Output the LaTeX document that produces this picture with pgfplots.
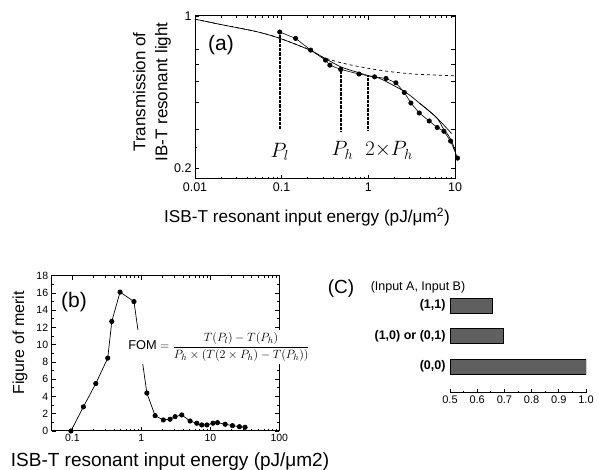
\documentclass[border=0pt]{standalone}
\usepackage{pgfplots}
\pgfplotsset{compat=1.18}
\usepackage{amsmath}
\usepackage{fontspec}
\setmainfont{Liberation Sans}
\definecolor{bargray}{RGB}{95,95,95}
\begin{document}
\begin{tikzpicture}[x=1pt,y=1pt]
\path[use as bounding box] (0,0) rectangle (599,470);
% ---------------- panel (a)
\begin{axis}[
  at={(195pt,291pt)}, anchor=south west,
  width=260pt, height=163pt, scale only axis,
  xmode=log, ymode=log,
  xmin=0.01, xmax=10, ymin=0.178, ymax=1,
  xtick={0.01,0.1,1,10}, xticklabels={0.01,0.1,1,10},
  ytick={0.2,0.3,0.4,0.5,0.6,0.7,1}, yticklabels={0.2,,,,,,1},
  minor ytick={0.25},
  tick align=inside, major tick length=4pt, minor tick length=2.2pt,
  axis line style={line width=1pt}, tick style={line width=0.8pt, black},
  ticklabel style={font=\fontsize{12.5}{12.5}\selectfont},
  /pgf/number format/assume math mode=true,
  clip=false,
]
% dashed model curve
\addplot[black, line width=0.7pt, dashed, smooth] coordinates {
(0.01,0.967) (0.0212,0.909) (0.0515,0.847) (0.0956,0.789) (0.212,0.697) (0.302,0.645)
(0.562,0.601) (1.36,0.563) (3.3,0.541) (10,0.531)};
% solid model curve 1
\addplot[black, line width=0.7pt, smooth] coordinates {
(0.01,0.967) (0.0212,0.909) (0.0515,0.847) (0.0956,0.789) (0.212,0.697) (0.302,0.645)
(0.48,0.584) (0.78,0.548) (1.04,0.529) (1.36,0.516) (2.64,0.448) (3.94,0.396) (6.13,0.341) (9.14,0.288)};
% solid model curve 2
\addplot[black, line width=0.7pt, smooth] coordinates {
(3.94,0.396) (6.13,0.341) (7.3,0.304) (8.36,0.283) (9.38,0.259) (9.97,0.241)};
% measured data
\addplot[black, line width=0.6pt, mark=*, mark size=2.2pt] coordinates {
(0.095,0.844) (0.145,0.789) (0.216,0.697) (0.32,0.627) (0.36,0.594) (0.48,0.568)
(0.78,0.541) (1.18,0.525) (1.6,0.516) (2.08,0.493) (2.6,0.445) (3.1,0.398)
(3.87,0.358) (5.04,0.329) (6.23,0.307) (7.45,0.295) (8.9,0.266) (10.7,0.222)};
% vertical dotted markers
\addplot[black, line width=2.2pt, dash pattern=on 0.7pt off 0.6pt] coordinates {(0.095,0.844) (0.095,0.303)};
\addplot[black, line width=2.2pt, dash pattern=on 0.7pt off 0.6pt] coordinates {(0.48,0.568) (0.48,0.297)};
\addplot[black, line width=2.2pt, dash pattern=on 0.7pt off 0.6pt] coordinates {(0.99,0.535) (0.99,0.297)};
\node[font=\fontsize{21}{21}\selectfont] at (axis cs:0.095,0.236) {$P_l$};
\node[font=\fontsize{21}{21}\selectfont] at (axis cs:0.502,0.241) {$P_h$};
\node[font=\fontsize{21}{21}\selectfont] at (axis cs:1.73,0.241) {$2{\times}P_h$};
\end{axis}
\node[font=\fontsize{21}{21}\selectfont] at (221,425) {(a)};
\node[font=\fontsize{17.2}{17.2}\selectfont] at (307,253) {ISB-T resonant input energy (pJ/μm\textsuperscript{2})};
\node[rotate=90, align=center, font=\fontsize{17}{22}\selectfont] at (152,378) {Transmission of\\IB-T resonant light};
% ---------------- panel (b)
\begin{axis}[
  at={(51.7pt,39pt)}, anchor=south west,
  width=227.6pt, height=155.3pt, scale only axis,
  xmode=log,
  xmin=0.05, xmax=100, ymin=0, ymax=18,
  xtick={0.1,1,10,100}, xticklabels={0.1,1,10,100},
  ytick={0,2,...,18}, minor y tick num=1,
  tick align=inside, major tick length=4pt, minor tick length=2.2pt,
  axis line style={line width=1pt}, tick style={line width=0.8pt, black},
  ticklabel style={font=\fontsize{10.5}{10.5}\selectfont},
  /pgf/number format/assume math mode=true,
  clip=false,
]
\addplot[black, line width=0.7pt, mark=*, mark size=2.2pt] coordinates {
(0.095,0) (0.144,2.8) (0.218,5.5) (0.325,8.45) (0.372,12.7) (0.49,16.1) (0.78,15.0)
(1.2,4.4) (1.58,1.78) (2.08,1.28) (2.6,1.36) (3.08,1.66) (3.85,1.86) (5.08,1.16)
(6.36,0.9) (7.5,0.7) (8.9,0.7) (10.9,0.9) (12.7,0.97) (16.4,0.78) (20.9,0.62)
(26.4,0.5) (31.9,0.43)};
\end{axis}
\node[fill=white, inner xsep=2pt, inner ysep=3pt, font=\fontsize{12.8}{12.8}\selectfont] at (219,123)
  {$\mathrm{FOM}=\dfrac{T(P_l)-T(P_h)}{P_h\times(T(2\times P_h)-T(P_h))}$};
\node[font=\fontsize{21}{21}\selectfont] at (74,168) {(b)};
\node[font=\fontsize{19}{19}\selectfont] at (170,8) {ISB-T resonant input energy (pJ/μm2)};
\node[rotate=90, font=\fontsize{16}{16}\selectfont] at (20,127) {Figure of merit};
% ---------------- panel (c)
\begin{axis}[
  at={(450pt,77.3pt)}, anchor=south west,
  width=136pt, height=102.2pt, scale only axis,
  xbar, bar width=15pt,
  xmin=0.5, xmax=1.0, ymin=-0.85, ymax=2.5,
  axis x line*=bottom, axis y line*=left,
  x axis line style={-, line width=0.8pt},
  y axis line style={draw=none},
  xtick={0.5,0.6,0.7,0.8,0.9,1.0}, xticklabels={0.5,0.6,0.7,0.8,0.9,1.0},
  minor xtick={0.55,0.65,0.75,0.85,0.95},
  ytick={0,1,2}, yticklabels={{(0,0)},{(1,0) or (0,1)},{(1,1)}},
  ytick style={draw=none},
  tick align=inside, major tick length=3.5pt, minor tick length=2pt,
  xtick style={line width=0.8pt, black},
  xticklabel style={font=\fontsize{11}{11}\selectfont},
  yticklabel style={font=\bfseries\fontsize{12.5}{12.5}\selectfont, xshift=-1pt},
  /pgf/number format/assume math mode=true,
]
\addplot[fill=bargray, draw=black, line width=0.8pt] coordinates {(1.0,0) (0.697,1) (0.657,2)};
\end{axis}
\node[font=\fontsize{12.5}{12.5}\selectfont] at (418,183) {(Input A, Input B)};
\node[font=\fontsize{19}{19}\selectfont] at (341,181) {(C)};
\end{tikzpicture}
\end{document}
